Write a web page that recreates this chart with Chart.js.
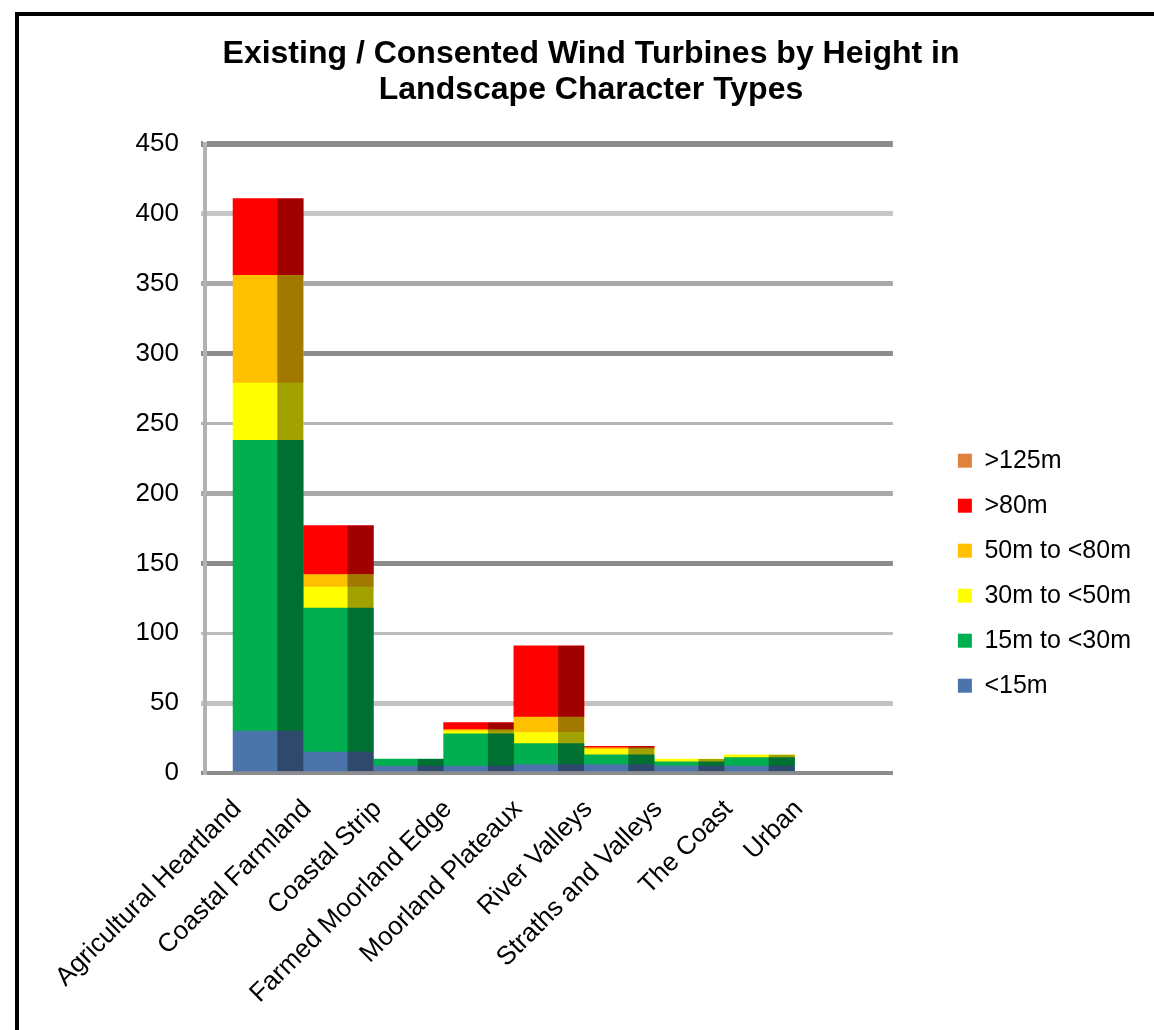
<!DOCTYPE html>
<html>
<head>
<meta charset="utf-8">
<script src="https://cdn.jsdelivr.net/npm/chart.js@4"></script>
<style>
  html, body { margin: 0; padding: 0; background: #fff; overflow: hidden; }
  #frame { position: absolute; left: 15px; top: 12px; width: 1300px; height: 1200px; border: 4px solid #000; }
  #turbineChart { position: absolute; left: 0; top: 0; }
</style>
</head>
<body>
<div id="frame"></div>
<canvas id="turbineChart" width="1154" height="1030"></canvas>
<script>
const categories = ['Agricultural Heartland', 'Coastal Farmland', 'Coastal Strip', 'Farmed Moorland Edge',
  'Moorland Plateaux', 'River Valleys', 'Straths and Valleys', 'The Coast', 'Urban'];

// turbine counts per height band
const under15 = [30, 15, 5, 5, 6, 6, 5, 5, 0];
const m15to30 = [208, 103, 5, 23, 15, 7, 3, 6, 0];
const m30to50 = [41, 15, 0, 2, 8, 4, 2, 2, 0];
const m50to80 = [77, 9, 0, 1, 11, 1, 0, 0, 0];
const over80 = [55, 35, 0, 5, 51, 1, 0, 0, 0];
const over125 = [0, 0, 0, 0, 0, 0, 0, 0, 0];

const yTicks = [0, 50, 100, 150, 200, 250, 300, 350, 400, 450];

// gridline look per value (the original alternates heavy and light lines)
const gridStyle = {
  450: ['#8c8c8c', 6], 400: ['#c6c6c6', 5], 350: ['#a8a8a8', 5], 300: ['#8c8c8c', 5],
  250: ['#b4b4b4', 3], 200: ['#a8a8a8', 5], 150: ['#8c8c8c', 5], 100: ['#bcbcbc', 3],
  50: ['#c2c2c2', 5], 0: ['#8c8c8c', 4]
};

const font = "Arial, 'Liberation Sans', sans-serif";

function series(label, values, color) {
  return {
    label: label,
    // empty segments are left out so they leave no sliver on the axis
    data: values.map((v, i) => ({ x: i, y: v === 0 ? null : v })),
    backgroundColor: color,
    borderWidth: 0,
    categoryPercentage: 1,
    barPercentage: 1
  };
}

// darker right-hand strip on every bar, like the 3D side face in the original
const sideShade = {
  id: 'sideShade',
  afterDatasetsDraw(chart) {
    const c = chart.ctx;
    c.save();
    c.fillStyle = 'rgba(0,0,0,0.37)';
    chart.data.datasets.forEach((ds, di) => {
      const meta = chart.getDatasetMeta(di);
      if (meta.hidden) return;
      meta.data.forEach(bar => {
        const p = bar.getProps(['x', 'y', 'base', 'width'], true);
        const left = p.x - p.width / 2;
        const top = Math.min(p.y, p.base);
        const h = Math.abs(p.base - p.y);
        if (!(h > 0)) return;
        c.fillRect(left + p.width * 0.63, top, p.width * 0.37, h);
      });
    });
    c.restore();
  }
};

new Chart(document.getElementById('turbineChart'), {
  type: 'bar',
  data: {
    datasets: [
      series('<15m', under15, '#4a74aa'),
      series('15m to <30m', m15to30, '#00b050'),
      series('30m to <50m', m30to50, '#ffff00'),
      series('50m to <80m', m50to80, '#ffc000'),
      series('>80m', over80, '#ff0000'),
      series('>125m', over125, '#e0823d')
    ]
  },
  plugins: [sideShade],
  options: {
    responsive: false,
    animation: false,
    layout: { padding: { left: 41, right: 13, top: 0, bottom: 0 } },
    plugins: {
      title: {
        display: true,
        text: ['Existing / Consented Wind Turbines by Height in', 'Landscape Character Types'],
        color: '#000',
        font: { family: font, size: 32, weight: 'bold', lineHeight: 1.125 },
        padding: { top: 36, bottom: 36 }
      },
      legend: {
        position: 'right',
        reverse: true,
        maxWidth: 400,
        title: { display: true, text: ' ', padding: 51 },
        labels: {
          color: '#000',
          font: { family: font, size: 25 },
          boxWidth: 14,
          boxHeight: 14,
          padding: 20
        }
      },
      tooltip: { enabled: false }
    },
    scales: {
      x: {
        type: 'linear',
        stacked: true,
        offset: false,
        min: -0.9,
        max: 8.9,
        grid: { display: false },
        border: { display: true, color: '#8c8c8c', width: 4 },
        afterBuildTicks(scale) {
          scale.ticks = categories.map((c, i) => ({ value: i - 0.44 }));
        },
        afterFit(scale) { scale.height = 257; },
        ticks: {
          autoSkip: false,
          minRotation: 45,
          maxRotation: 45,
          color: '#000',
          font: { family: font, size: 26 },
          padding: 13,
          callback: (value, index) => categories[index]
        }
      },
      y: {
        stacked: true,
        min: 0,
        max: 450,
        afterBuildTicks(scale) {
          scale.ticks = yTicks.map(v => ({ value: v }));
        },
        afterFit(scale) { scale.width = 164; },
        border: { display: true, color: '#b2b2b2', width: 4 },
        grid: {
          color: ctx => (gridStyle[ctx.tick.value] || ['#bbb', 3])[0],
          lineWidth: ctx => (gridStyle[ctx.tick.value] || ['#bbb', 3])[1],
          tickLength: 4
        },
        ticks: {
          color: '#000',
          font: { family: font, size: 26 },
          padding: 22
        }
      },
      yRight: {
        position: 'right',
        display: true,
        grid: { display: false },
        border: { display: false },
        ticks: { display: false },
        afterFit(scale) { scale.width = 45; }
      }
    }
  }
});
</script>
</body>
</html>
